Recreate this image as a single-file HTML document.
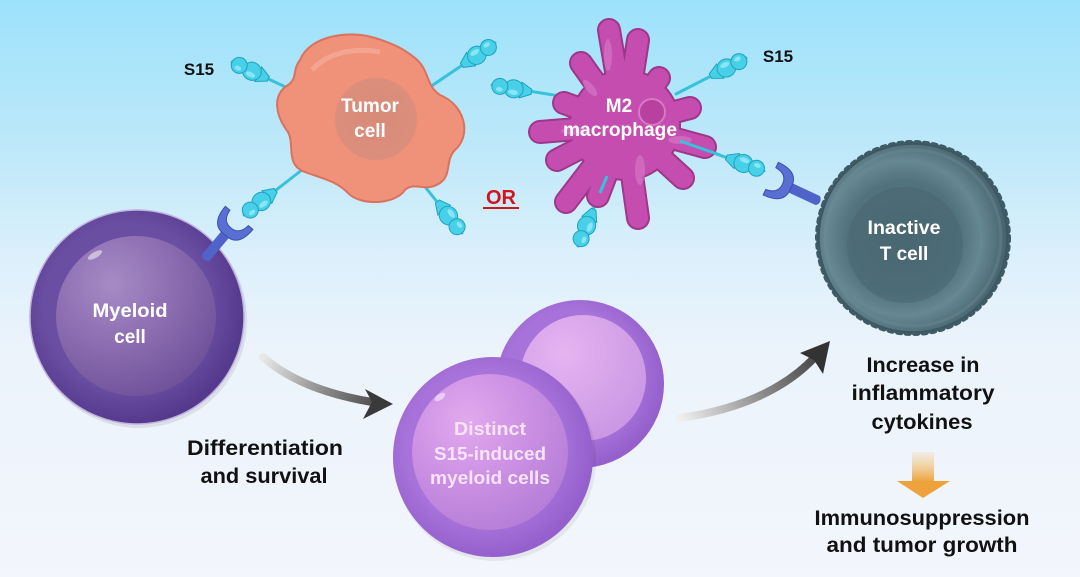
<!DOCTYPE html>
<html><head><meta charset="utf-8"><style>
html,body{margin:0;padding:0;}
body{width:1080px;height:577px;overflow:hidden;}
svg{display:block;}
text{font-family:"Liberation Sans",sans-serif;font-weight:bold;}
</style></head><body>
<svg width="1080" height="577" viewBox="0 0 1080 577" xmlns="http://www.w3.org/2000/svg">
<defs>
 <linearGradient id="bg" x1="0" y1="0" x2="0" y2="1">
  <stop offset="0" stop-color="#9ce2fb"/>
  <stop offset="0.25" stop-color="#bde8fa"/>
  <stop offset="0.45" stop-color="#dcf0fb"/>
  <stop offset="0.6" stop-color="#ebf3fb"/>
  <stop offset="1" stop-color="#f3f6fc"/>
 </linearGradient>
 <radialGradient id="myOut" cx="0.45" cy="0.45" r="0.55">
  <stop offset="0.7" stop-color="#6a4ea2"/>
  <stop offset="1" stop-color="#54398c"/>
 </radialGradient>
 <radialGradient id="myIn" cx="0.35" cy="0.3" r="0.8">
  <stop offset="0" stop-color="#a68bc6"/>
  <stop offset="0.5" stop-color="#8b6cb0"/>
  <stop offset="1" stop-color="#6a4e96"/>
 </radialGradient>
 <radialGradient id="tumIn" cx="0.5" cy="0.5" r="0.5">
  <stop offset="0" stop-color="#d88b7a"/>
  <stop offset="1" stop-color="#dc8e7c"/>
 </radialGradient>
 <radialGradient id="tcell" cx="0.45" cy="0.5" r="0.55">
  <stop offset="0" stop-color="#4a6872"/>
  <stop offset="0.55" stop-color="#52737e"/>
  <stop offset="0.75" stop-color="#668892"/>
  <stop offset="1" stop-color="#46626c"/>
 </radialGradient>
 <radialGradient id="dOut" cx="0.45" cy="0.45" r="0.55">
  <stop offset="0.7" stop-color="#a772d9"/>
  <stop offset="1" stop-color="#9560cc"/>
 </radialGradient>
 <radialGradient id="dIn" cx="0.35" cy="0.3" r="0.8">
  <stop offset="0" stop-color="#e2a9ee"/>
  <stop offset="0.5" stop-color="#cb90e3"/>
  <stop offset="1" stop-color="#b27bd6"/>
 </radialGradient>
 <radialGradient id="dIn2" cx="0.35" cy="0.3" r="0.8">
  <stop offset="0" stop-color="#e6b4f0"/>
  <stop offset="1" stop-color="#c895e3"/>
 </radialGradient>
 <linearGradient id="ar1" gradientUnits="userSpaceOnUse" x1="263" y1="357" x2="393" y2="404">
  <stop offset="0" stop-color="#e8e8e8"/>
  <stop offset="0.5" stop-color="#8a8a8a"/>
  <stop offset="1" stop-color="#3a3a3a"/>
 </linearGradient>
 <linearGradient id="ar2" gradientUnits="userSpaceOnUse" x1="680" y1="418" x2="830" y2="342">
  <stop offset="0" stop-color="#f0f0f0"/>
  <stop offset="0.5" stop-color="#8c8c8c"/>
  <stop offset="1" stop-color="#333"/>
 </linearGradient>
 <linearGradient id="org" x1="0" y1="0" x2="0" y2="1">
  <stop offset="0" stop-color="#f3c982" stop-opacity="0.2"/>
  <stop offset="1" stop-color="#eea23b"/>
 </linearGradient>
 <g id="lh">
  <path d="M-40,-2.5 L-29,-8 L-29,8 L-40,2.5 Z" fill="#47d0e8" stroke="#1ea3c0" stroke-width="1"/>
  <ellipse cx="-22" cy="0" rx="9.5" ry="9" fill="#47d0e8" stroke="#1ea3c0" stroke-width="1"/>
  <circle cx="-8" cy="0" r="8" fill="#47d0e8" stroke="#1ea3c0" stroke-width="1"/>
  <ellipse cx="-22" cy="-3.5" rx="5" ry="2.5" fill="#9beaf6" opacity="0.8"/>
  <ellipse cx="-8" cy="-3" rx="3.5" ry="2.2" fill="#9beaf6" opacity="0.8"/>
 </g>
 <g id="rc">
  <path d="M-6,-5 L-44,-5 Q-49,0 -44,5 L-6,5 Z" fill="#4f63c8"/>
  <path d="M8,-18 Q-16,-18 -14,0 Q-16,18 8,18 L8,12 Q-5,11 -5,0 Q-5,-11 8,-12 Z" fill="#5a6fd3" stroke="#3d4fb0" stroke-width="1"/>
 </g>
 <g id="fingers">
  <line x1="625" y1="125" x2="609" y2="30"/>
  <line x1="625" y1="125" x2="638" y2="40"/>
  <line x1="625" y1="125" x2="581" y2="63"/>
  <line x1="625" y1="125" x2="659" y2="78"/>
  <line x1="625" y1="125" x2="690" y2="108"/>
  <line x1="625" y1="125" x2="705" y2="147"/>
  <line x1="625" y1="125" x2="683" y2="178"/>
  <line x1="625" y1="125" x2="638" y2="218"/>
  <line x1="625" y1="125" x2="598" y2="196"/>
  <line x1="625" y1="125" x2="566" y2="202"/>
  <line x1="625" y1="125" x2="557" y2="160"/>
  <line x1="625" y1="125" x2="540" y2="132"/>
  <line x1="625" y1="125" x2="564" y2="103"/>
 </g>
</defs>

<rect width="1080" height="577" fill="url(#bg)"/>

<!-- Ligand sticks -->
<g stroke="#36c2da" stroke-width="3" stroke-linecap="round">
 <line x1="292" y1="90" x2="232" y2="62"/>
 <line x1="430" y1="87" x2="495" y2="43"/>
 <line x1="307" y1="166" x2="244" y2="215"/>
 <line x1="418" y1="178" x2="462" y2="233"/>
 <line x1="572" y1="98" x2="492" y2="85"/>
 <line x1="676" y1="94" x2="746" y2="58"/>
 <line x1="680" y1="141" x2="764" y2="171"/>
 <line x1="607" y1="176" x2="578" y2="246"/>
</g>
<use href="#lh" transform="translate(232,62) rotate(-155)"/>
<use href="#lh" transform="translate(495,43) rotate(-34)"/>
<use href="#lh" transform="translate(462,233) rotate(52)"/>
<use href="#lh" transform="translate(492,85) rotate(-170)"/>
<use href="#lh" transform="translate(746,58) rotate(-27)"/>
<use href="#lh" transform="translate(578,246) rotate(113)"/>

<!-- Myeloid cell -->
<circle cx="139" cy="320" r="108" fill="#000" opacity="0.08"/>
<circle cx="137" cy="317" r="107" fill="url(#myOut)" stroke="#c2b2e0" stroke-width="1.5"/>
<circle cx="136" cy="316" r="80" fill="url(#myIn)"/>
<ellipse cx="95" cy="255" rx="8" ry="3" fill="#fff" opacity="0.5" transform="rotate(-30 95 255)"/>
<use href="#rc" transform="translate(234,224) rotate(-50)"/>
<use href="#lh" transform="translate(244,215) rotate(142)"/>
<text x="130" y="317" font-size="19" fill="#fff" text-anchor="middle" textLength="75" lengthAdjust="spacingAndGlyphs">Myeloid</text>
<text x="130" y="343" font-size="19" fill="#fff" text-anchor="middle">cell</text>

<!-- Tumor cell -->
<path d="M300,60 C310,35 350,30 375,38 C395,44 405,50 415,58 C430,70 425,85 440,95 C465,105 472,135 455,150 C445,160 452,175 440,183 C425,193 415,181 405,190 C395,205 360,206 348,193 C335,180 320,178 305,172 C285,165 295,145 288,132 C275,115 272,95 288,85 C298,78 292,70 300,60 Z" fill="#f0917a" stroke="#d9725e" stroke-width="2"/>
<path d="M312,70 C330,50 360,48 380,52" fill="none" stroke="#f7b3a0" stroke-width="5" opacity="0.6"/>
<circle cx="376" cy="119" r="41" fill="url(#tumIn)"/>
<text x="370" y="112" font-size="19" fill="#fff" text-anchor="middle" textLength="58" lengthAdjust="spacingAndGlyphs">Tumor</text>
<text x="370" y="137" font-size="19" fill="#fff" text-anchor="middle">cell</text>

<!-- M2 macrophage -->
<use href="#fingers" stroke="#9e3789" stroke-width="24" stroke-linecap="round"/>
<circle cx="625" cy="125" r="56" fill="#9e3789"/>
<use href="#fingers" stroke="#c54db0" stroke-width="20" stroke-linecap="round"/>
<circle cx="625" cy="125" r="54" fill="#c54db0"/>
<circle cx="652" cy="112" r="13" fill="#b8409f" stroke="#d779c6" stroke-width="2"/>
<g fill="#db84cc" opacity="0.5">
 <ellipse cx="608" cy="55" rx="4" ry="16"/>
 <ellipse cx="640" cy="170" rx="5" ry="15"/>
 <ellipse cx="575" cy="131" rx="14" ry="4"/>
 <ellipse cx="680" cy="140" rx="12" ry="4"/>
 <ellipse cx="590" cy="88" rx="10" ry="4" transform="rotate(50 590 88)"/>
</g>
<text x="619" y="112" font-size="19" fill="#fff" text-anchor="middle">M2</text>
<text x="620" y="136" font-size="19" fill="#fff" text-anchor="middle" textLength="114" lengthAdjust="spacingAndGlyphs">macrophage</text>
<line x1="680" y1="141" x2="720" y2="155" stroke="#36c2da" stroke-width="3"/>
<line x1="607" y1="176" x2="600" y2="193" stroke="#36c2da" stroke-width="3"/>

<!-- T cell -->
<circle cx="913" cy="238" r="95" fill="none" stroke="#3f5b66" stroke-width="6" stroke-dasharray="3 5.5" stroke-linecap="round"/>
<circle cx="913" cy="238" r="94" fill="url(#tcell)" stroke="#3c5762" stroke-width="1.5"/>
<circle cx="913" cy="238" r="88" fill="none" stroke="#6f9099" stroke-width="3" opacity="0.35"/>
<circle cx="905" cy="245" r="58" fill="#4a6872" opacity="0.6"/>
<use href="#rc" transform="translate(778,182) rotate(205)"/>
<use href="#lh" transform="translate(764,171) rotate(20)"/>
<text x="904" y="234" font-size="19" fill="#fff" text-anchor="middle" textLength="73" lengthAdjust="spacingAndGlyphs">Inactive</text>
<text x="904" y="260" font-size="19" fill="#fff" text-anchor="middle">T cell</text>

<!-- Distinct cells -->
<circle cx="580" cy="384" r="84" fill="url(#dOut)"/>
<circle cx="583" cy="378" r="63" fill="url(#dIn2)"/>
<circle cx="495" cy="460" r="101" fill="#000" opacity="0.06"/>
<circle cx="493" cy="457" r="100" fill="url(#dOut)"/>
<circle cx="490" cy="452" r="78" fill="url(#dIn)"/>
<ellipse cx="440" cy="397" rx="6" ry="3" fill="#fff" opacity="0.5" transform="rotate(-35 440 397)"/>
<text x="490" y="435" font-size="18" fill="#f6e4f6" text-anchor="middle" textLength="72" lengthAdjust="spacingAndGlyphs">Distinct</text>
<text x="490" y="460" font-size="18" fill="#f6e4f6" text-anchor="middle" textLength="112" lengthAdjust="spacingAndGlyphs">S15-induced</text>
<text x="490" y="484" font-size="18" fill="#f6e4f6" text-anchor="middle" textLength="120" lengthAdjust="spacingAndGlyphs">myeloid cells</text>

<!-- Arrows -->
<path d="M263,357 Q300,390 372,402" fill="none" stroke="url(#ar1)" stroke-width="8" stroke-linecap="round"/>
<polygon points="393,404 365,389 372,402 363,419" fill="#3a3a3a"/>
<path d="M680,418 Q770,405 815,357" fill="none" stroke="url(#ar2)" stroke-width="8" stroke-linecap="round"/>
<polygon points="830,341 800,353 814,360 823,374" fill="#333"/>

<!-- Orange arrow -->
<rect x="912" y="452" width="22" height="30" fill="url(#org)"/>
<polygon points="897,481 950,481 923,498" fill="#eea23b"/>

<!-- Labels -->
<text x="199" y="75" font-size="17" fill="#111" text-anchor="middle">S15</text>
<text x="778" y="62" font-size="17" fill="#111" text-anchor="middle">S15</text>
<text x="501" y="204" font-size="20" fill="#d0161c" text-anchor="middle">OR</text>
<rect x="483" y="207" width="36" height="2" fill="#d0161c"/>

<text x="265" y="455" font-size="21" fill="#111" text-anchor="middle" textLength="156" lengthAdjust="spacingAndGlyphs">Differentiation</text>
<text x="264" y="483" font-size="21" fill="#111" text-anchor="middle" textLength="127" lengthAdjust="spacingAndGlyphs">and survival</text>

<text x="923" y="372" font-size="21" fill="#111" text-anchor="middle" textLength="113" lengthAdjust="spacingAndGlyphs">Increase in</text>
<text x="923" y="400" font-size="21" fill="#111" text-anchor="middle" textLength="143" lengthAdjust="spacingAndGlyphs">inflammatory</text>
<text x="922" y="429" font-size="21" fill="#111" text-anchor="middle" textLength="101" lengthAdjust="spacingAndGlyphs">cytokines</text>
<text x="922" y="525" font-size="21" fill="#111" text-anchor="middle" textLength="215" lengthAdjust="spacingAndGlyphs">Immunosuppression</text>
<text x="922" y="552" font-size="21" fill="#111" text-anchor="middle" textLength="191" lengthAdjust="spacingAndGlyphs">and tumor growth</text>
</svg>
</body></html>
